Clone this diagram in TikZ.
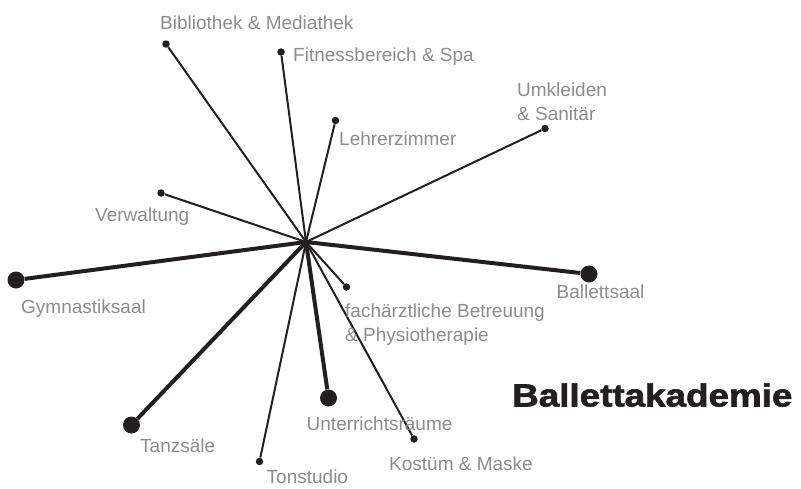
\documentclass[tikz,border=0pt]{standalone}
\usepackage{fontspec}
\setmainfont{Liberation Sans}
\newfontfamily\titlefont{Liberation Sans Bold}[FakeBold=1.8]
\definecolor{ink}{HTML}{231F20}
\definecolor{labelgray}{HTML}{8C8C8C}

\begin{document}
\begin{tikzpicture}[x=1pt, y=-1pt,
    smalldot/.style={circle, fill=ink, inner sep=0pt, minimum size=7.5pt},
    bigdot/.style={circle, fill=ink, inner sep=0pt, minimum size=17pt},
    thinline/.style={draw=ink, line width=2pt},
    thickline/.style={draw=ink, line width=4pt},
    room/.style={text=labelgray, font=\fontsize{19}{23.5}\selectfont, inner sep=0pt, anchor=base west, align=left}]
      \useasboundingbox (0,0) rectangle (801,488);

      % Centre of the star
      \coordinate (hub) at (306,242);

      % End points
      \node[smalldot] (biblio)   at (166,44)  {};
      \node[smalldot] (fitness)  at (281,52)  {};
      \node[smalldot] (lehrer)   at (335.5,120.5) {};
      \node[smalldot] (umkleide) at (545,128.5) {};
      \node[smalldot] (verwalt)  at (161,193) {};
      \node[bigdot]   (gymnast)  at (16,280)  {};
      \node[bigdot]   (ballett)  at (589,274) {};
      \node[smalldot] (arzt)     at (346.5,287) {};
      \node[bigdot]   (unterr)   at (328.5,398) {};
      \node[bigdot]   (tanz)     at (131.5,425) {};
      \node[smalldot] (tonstud)  at (259.5,461.5) {};
      \node[smalldot] (kostuem)  at (414,439) {};

      % Connectors
      \foreach \n in {biblio,fitness,lehrer,umkleide,verwalt,arzt,tonstud,kostuem}
        \draw[thinline] (hub) -- (\n);
      \foreach \n in {gymnast,ballett,unterr,tanz}
        \draw[thickline] (hub) -- (\n);

      % Labels (base = last line)
      \node[room] (biblioL)   at (160,29.3)  {Bibliothek \& Mediathek};
      \node[room] (fitnessL)  at (293,61.5)  {Fitnessbereich \& Spa};
      \node[room] (lehrerL)   at (339,145.5) {Lehrerzimmer};
      \node[room] (umkleideL) at (517,120)   {Umkleiden\\\& Sanitär};
      \node[room] (verwaltL)  at (95,221.5)  {Verwaltung};
      \node[room] (gymnastL)  at (21,313)    {Gymnastiksaal};
      \node[room] (ballettL)  at (556.5,298) {Ballettsaal};
      \node[room] (arztL)     at (345,341)   {fachärztliche Betreuung\\\& Physiotherapie};
      \node[room] (unterrL)   at (306.5,430) {Unterrichtsräume};
      \node[room] (tanzL)     at (140,452.5) {Tanzsäle};
      \node[room] (tonstudL)  at (266.5,483) {Tonstudio};
      \node[room] (kostuemL)  at (389,470)   {Kostüm \& Maske};

      % Title
      \node[anchor=base west, inner sep=0pt, xscale=1.15, text=ink,
            font=\fontsize{32}{36}\titlefont] (title) at (512,406.5) {Ballettakademie};
\end{tikzpicture}
\end{document}
